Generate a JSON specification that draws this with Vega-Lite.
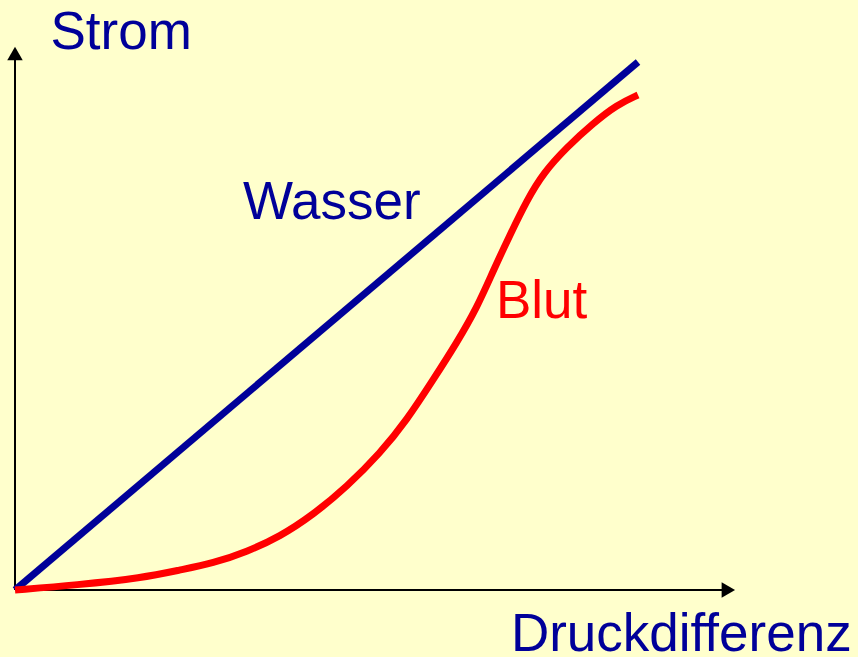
{
  "$schema": "https://vega.github.io/schema/vega-lite/v6.json",
  "width": 858,
  "height": 657,
  "padding": 0,
  "autosize": {"type": "none"},
  "background": "#FFFFCC",
  "config": {"view": {"stroke": null}},
  "datasets": {
    "axes": [
      {"axis": "x", "x": 0, "y": 0, "x2": 114.5, "y2": 0},
      {"axis": "y", "x": 0, "y": 0, "x2": 0, "y2": 101.6}
    ],
    "arrows": [
      {"axis": "x", "x": 114.5, "y": 0, "shape": "triangle-right"},
      {"axis": "y", "x": 0, "y": 101.6, "shape": "triangle-up"}
    ],
    "curves": [
      {"series": "Wasser", "x": 0, "y": 0},
      {"series": "Wasser", "x": 100, "y": 100},
      {"series": "Blut", "x": 0, "y": 0},
      {"series": "Blut", "x": 9.9, "y": 0.95},
      {"series": "Blut", "x": 20.5, "y": 2.3},
      {"series": "Blut", "x": 26.5, "y": 3.8},
      {"series": "Blut", "x": 31.8, "y": 5.06},
      {"series": "Blut", "x": 37.2, "y": 7.25},
      {"series": "Blut", "x": 42.5, "y": 10.1},
      {"series": "Blut", "x": 47.8, "y": 14.2},
      {"series": "Blut", "x": 53.3, "y": 19.6},
      {"series": "Blut", "x": 58.6, "y": 25.9},
      {"series": "Blut", "x": 62.9, "y": 32.2},
      {"series": "Blut", "x": 67.1, "y": 39.8},
      {"series": "Blut", "x": 70.9, "y": 46.8},
      {"series": "Blut", "x": 74.2, "y": 53.6},
      {"series": "Blut", "x": 76.7, "y": 60.3},
      {"series": "Blut", "x": 79.5, "y": 67.4},
      {"series": "Blut", "x": 82.2, "y": 73.9},
      {"series": "Blut", "x": 84.8, "y": 79.0},
      {"series": "Blut", "x": 88.6, "y": 83.9},
      {"series": "Blut", "x": 92.8, "y": 88.4},
      {"series": "Blut", "x": 96.6, "y": 91.9},
      {"series": "Blut", "x": 100, "y": 93.75}
    ],
    "labels": [
      {"text": "Strom", "x": 5.7, "y": 102.5, "color": "blue"},
      {"text": "Wasser", "x": 36.6, "y": 70.3, "color": "blue"},
      {"text": "Blut", "x": 77.2, "y": 51.5, "color": "red"},
      {"text": "Druckdifferenz", "x": 79.6, "y": -11.5, "color": "blue"}
    ]
  },
  "encoding": {
    "x": {"field": "x", "type": "quantitative", "axis": null, "scale": {"domain": [-2.408, 135.31], "nice": false, "zero": false}},
    "y": {"field": "y", "type": "quantitative", "axis": null, "scale": {"domain": [-12.689, 111.742], "nice": false, "zero": false}}
  },
  "layer": [
    {
      "data": {"name": "axes"},
      "mark": {"type": "rule", "color": "#000000", "strokeWidth": 2},
      "encoding": {
        "x2": {"field": "x2"},
        "y2": {"field": "y2"}
      }
    },
    {
      "data": {"name": "arrows"},
      "mark": {"type": "point", "filled": true, "color": "#000000", "size": 240, "opacity": 1},
      "encoding": {
        "shape": {"field": "shape", "type": "nominal", "scale": null, "legend": null}
      }
    },
    {
      "data": {"name": "curves"},
      "transform": [{"filter": "datum.series === 'Wasser'"}],
      "mark": {"type": "line", "color": "#000099", "strokeWidth": 7, "strokeCap": "butt"},
      "encoding": {"order": {"field": "x", "type": "quantitative"}}
    },
    {
      "data": {"name": "curves"},
      "transform": [{"filter": "datum.series === 'Blut'"}],
      "mark": {"type": "line", "color": "#FF0000", "strokeWidth": 7, "strokeCap": "butt", "interpolate": "basis"},
      "encoding": {"order": {"field": "x", "type": "quantitative"}}
    },
    {
      "data": {"name": "labels"},
      "mark": {"type": "text", "font": "Liberation Sans", "fontSize": 53, "align": "left", "baseline": "alphabetic"},
      "encoding": {
        "text": {"field": "text"},
        "color": {"field": "color", "type": "nominal", "scale": {"domain": ["blue", "red"], "range": ["#000099", "#FF0000"]}, "legend": null}
      }
    }
  ]
}
